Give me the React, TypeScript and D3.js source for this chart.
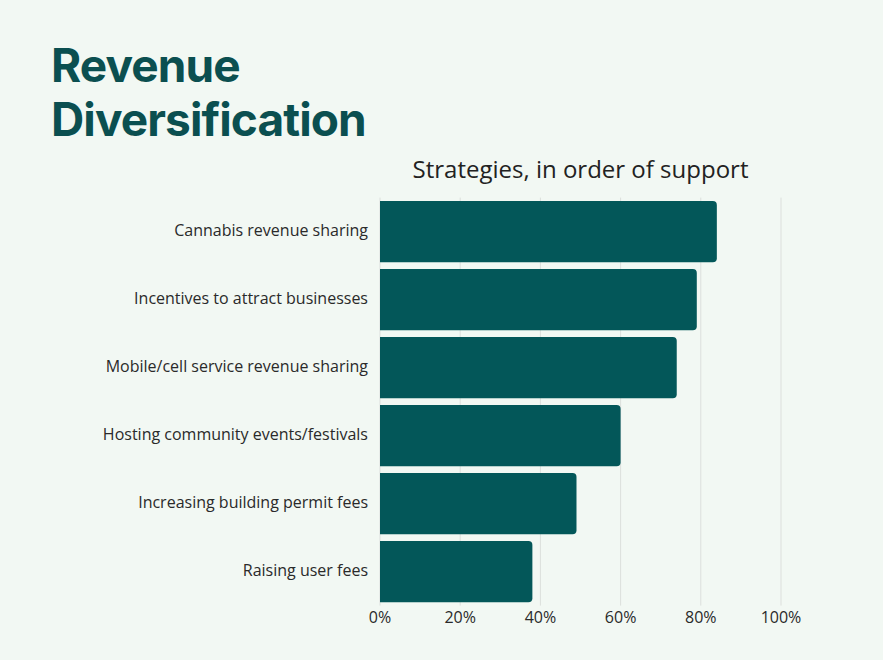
import React from "react";
import * as d3 from "d3";

const categories = [
  "Cannabis revenue sharing",
  "Incentives to attract businesses",
  "Mobile/cell service revenue sharing",
  "Hosting community events/festivals",
  "Increasing building permit fees",
  "Raising user fees",
];
const values = [84, 79, 74, 60, 49, 38];
const ticks = [0, 20, 40, 60, 80, 100];

const W = 883;
const H = 660;
const M = { left: 380, right: 781, top: 197.6, bottom: 605.6 };

function barPath(x0: number, x1: number, y0: number, h: number, r: number) {
  const rr = Math.min(r, (x1 - x0) / 2, h / 2);
  return `M${x0},${y0}H${x1 - rr}Q${x1},${y0} ${x1},${y0 + rr}V${y0 + h - rr}Q${x1},${y0 + h} ${x1 - rr},${y0 + h}H${x0}Z`;
}

export default function App() {
  const x = d3.scaleLinear().domain([0, 100]).range([M.left, M.right]);
  const y = d3.scaleBand<string>().domain(categories).range([M.top, M.bottom]).paddingInner(0.1).paddingOuter(0.05);
  const font = "'Open Sans', sans-serif";
  return (
    <svg width={W} height={H} style={{ position: "absolute", left: 0, top: 0, display: "block" }}>
      <rect x={0} y={0} width={W} height={H} fill="#f2f8f3" />
      <text x={51} y={82} fontFamily="Inter, sans-serif" fontWeight={700} fontSize={46} fill="#0b4f50" letterSpacing={-0.9}>Revenue</text>
      <text x={51} y={136} fontFamily="Inter, sans-serif" fontWeight={700} fontSize={46} fill="#0b4f50" letterSpacing={-0.9}>Diversification</text>
      <text x={580.5} y={178} textAnchor="middle" fontFamily={font} fontSize={24} fill="#222">Strategies, in order of support</text>
      {ticks.map((t) => (
        <line key={"g" + t} x1={x(t)} x2={x(t)} y1={M.top} y2={M.bottom} stroke="#dcdfdc" strokeWidth={1} />
      ))}
      {categories.map((c, i) => (
        <path key={c} d={barPath(x(0), x(values[i]), y(c)!, y.bandwidth(), 4)} fill="#035759" />
      ))}
      {categories.map((c) => (
        <text key={"l" + c} x={368} y={y(c)! + y.bandwidth() / 2 - 1.5} dy="0.35em" textAnchor="end" fontFamily={font} fontSize={16} fill="#2a2a2a">{c}</text>
      ))}
      {ticks.map((t) => (
        <text key={"t" + t} x={x(t)} y={617} dy="0.35em" textAnchor="middle" fontFamily={font} fontSize={16} fill="#2a2a2a">{t}%</text>
      ))}
    </svg>
  );
}
